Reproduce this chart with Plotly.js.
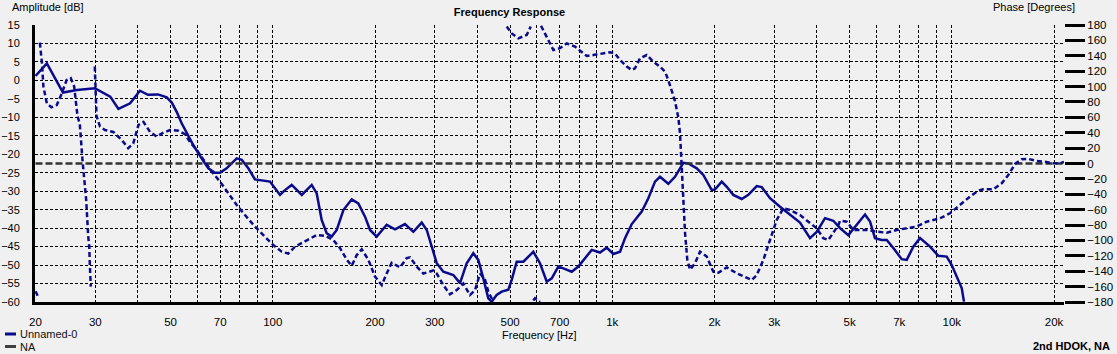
<!DOCTYPE html>
<html>
<head>
<meta charset="utf-8">
<script src="https://cdn.plot.ly/plotly-3.0.1.min.js"></script>
<style>
html,body{margin:0;padding:0;background:#f0f0f0;}
#chart{width:1117px;height:354px;}
</style>
</head>
<body>
<div id="chart"></div>
<script>
// ---- data ----
const ampFreqHz = [20,21.6,24.1,26.5,29.9,33.2,35.1,38.0,40.6,42.9,45.9,48.7,50.4,52.1,53.9,55.8,58.3,61.7,64.6,67.5,69.9,73.1,78.3,81.0,84.7,88.6,93.8,98.1,101.5,105.0,108.6,113.7,121.7,130.2,134.7,139.3,144.1,149.1,154.3,161.4,170.8,178.6,186.9,193.4,202.3,216.5,229.1,245.1,259.4,274.6,284.1,293.9,304.0,317.9,340.2,356.0,372.5,389.6,403.0,416.9,431.3,441.3,456.5,472.3,494.0,505.5,522.9,547.0,585.3,612.4,641.0,663.1,693.5,717.4,759.4,794.2,831.1,869.7,919.9,962.8,1007,1054,1090,1141,1221,1277,1336,1382,1462,1530,1619,1675,1773,1854,1963,2007,2101,2173,2272,2406,2516,2663,2755,2914,3119,3337,3572,3822,4000,4232,4477,4686,4957,5248,5551,5742,5940,6217,6432,6726,7120,7366,7702,8062,8627,9127,9661,9995,10340,10700,10860];
const ampDb = [1.2,4.6,-3.3,-2.6,-2.1,-4.4,-7.7,-6.2,-2.8,-3.9,-3.8,-4.6,-6.0,-8.5,-11.6,-14.3,-17.5,-21.1,-23.8,-25.0,-25.0,-23.8,-21.1,-21.5,-23.8,-26.8,-27.1,-27.4,-29.2,-31.0,-29.7,-28.3,-31.0,-28.3,-30.6,-37.8,-41.4,-42.3,-40.5,-35.1,-32.2,-33.3,-36.9,-40.5,-42.3,-39.1,-40.3,-38.9,-41.0,-38.5,-40.5,-45.0,-49.5,-51.8,-52.7,-54.9,-49.5,-46.8,-48.6,-53.6,-59.0,-59.9,-58.1,-57.2,-56.7,-54.0,-49.1,-49.1,-46.4,-49.5,-54.5,-53.6,-50.4,-50.9,-51.8,-50.4,-48.2,-45.9,-46.6,-45.3,-47.0,-46.4,-42.7,-38.9,-35.5,-31.9,-27.4,-26.1,-28.0,-26.1,-22.3,-22.5,-23.8,-25.6,-29.7,-29.5,-27.4,-28.8,-31.0,-32.1,-31.0,-28.6,-28.9,-31.9,-34.2,-36.4,-38.5,-42.7,-41.0,-37.3,-38.0,-40.0,-41.9,-39.1,-36.3,-38.2,-42.7,-43.2,-43.2,-45.4,-48.4,-48.6,-45.0,-42.7,-45.0,-47.5,-47.7,-50.0,-53.1,-56.3,-59.9];

// phase in degrees, wrapped to +-180 as displayed (null = wrap break)
const phaseFreqHz = [20,20.3,null,20.6,20.9,21.1,21.6,22.3,23.1,23.9,24.7,25.4,26.0,26.6,27.0,27.5,28.2,28.6,28.8,28.9,29.1,null,
  29.9,30.25,30.97,32.05,33.9,35.9,37.5,38.8,40.2,41.6,43.5,45.5,47.6,49.8,52.7,55.1,57.0,59.7,63.1,66.1,69.9,74.0,78.3,82.8,88.6,93.8,100.3,106.2,111.1,116.3,125.9,134.7,142.5,150.7,157.8,165.1,170.8,176.7,182.8,191.1,200,209.3,216.5,224.0,237.0,248.0,253.7,265.5,277.6,297.1,304.0,317.9,332.6,348.1,364.0,380.9,394.1,407.7,421.8,431.3,446.2,null,
  488.7,505.5,528.6,559.6,575.0,null,
  585.0,592.1,612.4,null,
  616.6,626.2,648.0,670.4,701.5,734.1,776.6,803.4,840.7,879.3,930.6,984.5,1018,1054,1103,1141,1166,1207,1263,1321,1382,1430,1462,1496,1530,1565,1583,1601,1619,1638,1663,1694,1752,1813,1897,1984,2053,2173,2325,2460,2574,2663,2785,2914,3050,3190,3337,3572,3822,4000,4183,4327,4477,4632,4686,4903,5128,5366,5677,6009,6432,6882,7445,7883,8437,9231,9879,10570,11310,11970,12380,13250,14030,14670,15360,16070,16810,17790,18820,19910,20830,21400];
const phaseDeg = [-166,-172,null,157,130,100,78,73,76,91,108.5,111,100,61,52,5,-47,-95,-108,-130,-160,null,
  126,62,48,43.5,41,30.5,20,26,50,54,41,35,40,43.5,42.6,38,28,17.5,2.3,-10.6,-23.6,-38.7,-54,-67,-82,-93,-106,-114.6,-117,-108,-99.4,-93,-94,-99.4,-110,-125,-133,-119,-111.5,-125,-147,-158,-143,-129,-135,-123,-122,-134,-143,-139,-143,-158,-170,-164.5,-156,-171,-164.5,-143,-151,-166.6,-179.6,null,
  178,169,162.7,167,178,null,
  -178,-175,-180,null,
  179,173.5,160.5,147.5,150,156,152,146.6,139.7,141,143,144.5,143,134.5,126,121.5,123.7,136.7,141,132.3,125.8,119.3,108.5,95.5,81,59.7,39,-4,-47,-90.7,-125,-138,-129.7,-114.6,-121,-140.6,-142,-135,-142.7,-147,-151.4,-145,-125.4,-99.4,-73.4,-58.2,-60.4,-67,-77.7,-84.2,-97.2,-99.4,-90,-80,-74.3,-75.6,-86.4,-86.4,-86.4,-88.6,-90,-86.4,-84.2,-82,-75.6,-71.2,-64.7,-54,-43,-35.4,-33.5,-33.5,-25.7,-15,-0.6,5.5,5.9,3.3,2.3,0.2,0.2,2];

const refFreqHz = [20, 21400];
const refDeg = [0, 0];

const gridFreqs = [20,30,40,50,60,70,80,90,100,200,300,400,500,600,700,800,900,1000,2000,3000,4000,5000,6000,7000,8000,9000,10000,20000];
const gridLabels = ['20','30','','50','','70','','','100','200','300','','500','','700','','','1k','2k','3k','','5k','','7k','','','10k','20k'];

// ---- chart ----
const FONT = 'Liberation Sans, Arial, sans-serif';
const navy = '#0a0a8c';

const traces = [
  {x: refFreqHz, y: refDeg, yaxis: 'y2', mode: 'lines', name: 'NA',
   line: {color: '#333333', width: 2.5, dash: '7px,3px'}, showlegend: false, hoverinfo: 'skip'},
  {x: phaseFreqHz, y: phaseDeg, yaxis: 'y2', mode: 'lines', name: 'Phase',
   line: {color: navy, width: 2.5, dash: '5px,3px'}, connectgaps: false, showlegend: false},
  {x: ampFreqHz, y: ampDb, yaxis: 'y', mode: 'lines', name: 'Unnamed-0',
   line: {color: navy, width: 2.5}, showlegend: false}
];

const L = 35, T = 25, PW = 1029, PH = 277;
const px = v => (v - L) / PW;
const py = v => (T + PH - v) / PH;

const layout = {
  width: 1117, height: 354,
  margin: {l: L, r: 1117 - L - PW, t: T, b: 354 - T - PH, pad: 0, autoexpand: false},
  paper_bgcolor: '#f0f0f0', plot_bgcolor: '#f0f0f0',
  font: {family: FONT, size: 11, color: '#000'},
  showlegend: false,
  title: {text: '<b>Frequency Response</b>', font: {family: FONT, size: 11, color: '#000'},
          xref: 'container', yref: 'container', x: 509.5 / 1117, xanchor: 'center', y: 1 - 12 / 354, yanchor: 'middle'},
  xaxis: {
    type: 'log', range: [1.29956, 4.33048],
    tickmode: 'array', tickvals: gridFreqs, ticktext: gridLabels,
    showgrid: true, gridcolor: '#000', gridwidth: 1, griddash: '3px,2px',
    showline: true, linecolor: '#000', linewidth: 3,
    ticks: 'outside', ticklen: 7, tickcolor: 'rgba(0,0,0,0)',
    tickfont: {family: FONT, size: 11.5, color: '#000'}, zeroline: false, fixedrange: true
  },
  yaxis: {
    range: [-60, 15], tick0: 0, dtick: 5,
    showgrid: true, gridcolor: '#000', gridwidth: 1, griddash: '3px,2px',
    showline: true, linecolor: '#000', linewidth: 3,
    ticks: 'outside', ticklen: 10, tickcolor: 'rgba(0,0,0,0)',
    tickfont: {family: FONT, size: 11, color: '#000'}, zeroline: false, fixedrange: true
  },
  yaxis2: {
    overlaying: 'y', side: 'right', range: [-180, 180], tick0: 0, dtick: 20,
    showgrid: false, zeroline: false, showline: false,
    ticks: 'outside', ticklen: 20, tickwidth: 3, tickcolor: '#000',
    tickfont: {family: FONT, size: 11.5, color: '#000'}, fixedrange: true
  },
  shapes: [
    {type: 'line', xref: 'paper', yref: 'paper', x0: px(5), x1: px(16), y0: py(334), y1: py(334), line: {color: navy, width: 3}},
    {type: 'line', xref: 'paper', yref: 'paper', x0: px(5), x1: px(16), y0: py(346.5), y1: py(346.5), line: {color: '#404040', width: 3}}
  ],
  annotations: [
    {text: 'Amplitude [dB]', xref: 'paper', yref: 'paper', x: px(10), y: py(7), xanchor: 'left', yanchor: 'middle', showarrow: false, font: {family: FONT, size: 11, color: '#000'}},
    {text: 'Phase [Degrees]', xref: 'paper', yref: 'paper', x: px(1077), y: py(7), xanchor: 'right', yanchor: 'middle', showarrow: false, font: {family: FONT, size: 11, color: '#000'}},
    {text: 'Frequency [Hz]', xref: 'paper', yref: 'paper', x: px(539), y: py(335), xanchor: 'center', yanchor: 'middle', showarrow: false, font: {family: FONT, size: 11, color: '#000'}},
    {text: 'Unnamed-0', xref: 'paper', yref: 'paper', x: px(18), y: py(334), xanchor: 'left', yanchor: 'middle', showarrow: false, font: {family: FONT, size: 11, color: '#111'}},
    {text: 'NA', xref: 'paper', yref: 'paper', x: px(18), y: py(346.5), xanchor: 'left', yanchor: 'middle', showarrow: false, font: {family: FONT, size: 11, color: '#111'}},
    {text: '<b>2nd HDOK, NA</b>', xref: 'paper', yref: 'paper', x: px(1112), y: py(345.5), xanchor: 'right', yanchor: 'middle', showarrow: false, font: {family: FONT, size: 11, color: '#000'}}
  ]
};

Plotly.newPlot('chart', traces, layout, {displayModeBar: false, staticPlot: true});
</script>
</body>
</html>
